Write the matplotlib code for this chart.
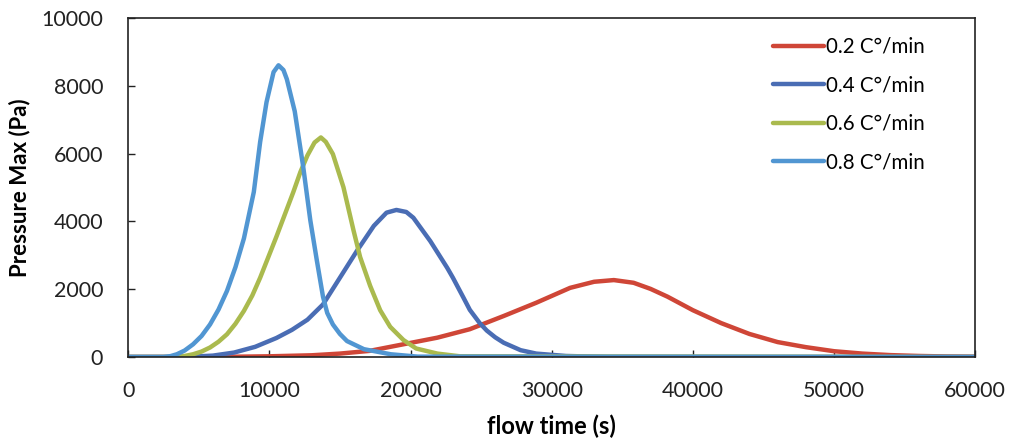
import matplotlib
matplotlib.use("Agg")
import matplotlib.pyplot as plt

plt.rcParams['font.family'] = ['Lato', 'DejaVu Sans']

# series (flow time in s, pressure max in Pa)
t_02 = [0, 6000, 10000, 13000, 15000, 17100, 19500, 21900, 24200, 26600, 28900, 31300, 33000,
        34400, 35800, 37000, 38200, 40000, 42000, 44000, 46000, 48000, 50000, 52000, 54000,
        56000, 58000, 60000]
p_02 = [0, 0, 20, 50, 100, 180, 375, 570, 820, 1210, 1600, 2040, 2220,
        2270, 2190, 2010, 1780, 1380, 1000, 680, 440, 290, 170, 100, 55,
        30, 15, 8]

t_04 = [0, 4000, 6000, 7500, 9000, 10500, 11600, 12700, 13800, 15000, 16200, 17400, 18300,
        19000, 19700, 20200, 21400, 22600, 23000, 23750, 24200, 24900, 25400, 26000, 26600,
        27800, 28900, 31000, 34000, 60000]
p_04 = [0, 0, 40, 130, 300, 560, 800, 1100, 1550, 2340, 3130, 3870, 4260,
        4340, 4280, 4110, 3420, 2630, 2340, 1750, 1390, 1000, 780, 580, 420,
        200, 100, 30, 0, 0]

t_06 = [0, 3000, 4000, 4600, 5200, 5800, 6400, 7000, 7600, 8200, 8800, 9350, 10500,
        11700, 12200, 12700, 13200, 13650, 14000, 14500, 15250, 15960, 16430, 17140, 17850,
        18560, 19500, 20400, 21900, 23500, 60000]
p_06 = [0, 0, 30, 80, 160, 280, 450, 670, 980, 1360, 1820, 2340, 3550,
        4870, 5460, 5950, 6330, 6480, 6350, 5990, 5010, 3740, 2950, 2100, 1380,
        890, 500, 250, 100, 20, 0]

t_08 = [0, 2500, 3000, 3450, 4000, 4600, 5200, 5800, 6400, 7000, 7600, 8200, 8900,
        9350, 9800, 10300, 10650, 11000, 11240, 11800, 12400, 12900, 13360, 13800, 14100,
        14500, 15000, 15500, 16700, 18600, 20500, 60000]
p_08 = [0, 0, 25, 80, 190, 375, 620, 960, 1400, 1950, 2650, 3500, 4870,
        6350, 7520, 8410, 8610, 8470, 8200, 7250, 5610, 4040, 2860, 1780, 1300,
        960, 680, 470, 230, 80, 10, 0]

labels = ['0.2 C°/min', '0.4 C°/min', '0.6 C°/min', '0.8 C°/min']
colors = ['#CF4637', '#4A6DB4', '#AABA4E', '#5196D2']

fig = plt.figure(figsize=(10.17, 4.44), dpi=100)
ax = fig.add_axes([0.126, 0.196, 0.833, 0.763])

for t, p, lab, c in zip([t_02, t_04, t_06, t_08], [p_02, p_04, p_06, p_08], labels, colors):
    ax.plot(t, p, color=c, lw=3.2, label=lab, solid_capstyle='round', solid_joinstyle='round')

ax.set_xlim(0, 60000)
ax.set_ylim(0, 10000)
ax.set_xticks(range(0, 60001, 10000))
ax.set_yticks(range(0, 10001, 2000))
ax.tick_params(direction='in', length=5, width=1, labelsize=15.5, colors='#222222')
ax.tick_params(axis='y', pad=18)
ax.tick_params(axis='x', pad=17)
for s in ax.spines.values():
    s.set_color('#222222')
    s.set_linewidth(1.2)

ax.set_xlabel('flow time (s)', fontsize=17, fontweight='bold', labelpad=10)
ax.set_ylabel('Pressure Max (Pa)', fontsize=16, fontweight='bold', labelpad=8)

ax.legend(loc='upper left', bbox_to_anchor=(0.760, 0.917), bbox_transform=fig.transFigure,
          frameon=False, fontsize=14.8, handlelength=2.5, handletextpad=0.1,
          labelspacing=0.9, borderpad=0, borderaxespad=0)

fig.savefig('out.png', dpi=100)
